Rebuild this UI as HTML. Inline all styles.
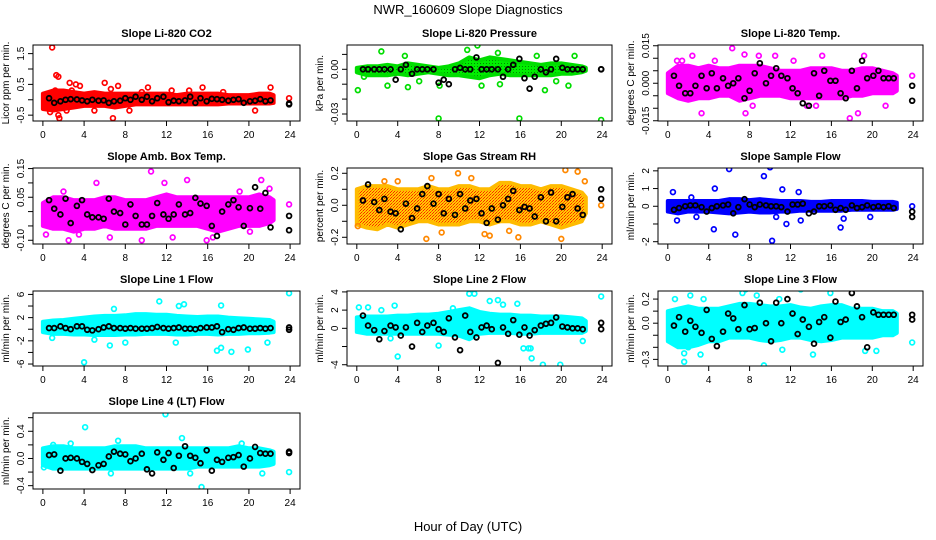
<!DOCTYPE html>
<html><head><meta charset="utf-8"><style>
html,body{margin:0;padding:0;background:#fff}
svg{display:block;font-family:"Liberation Sans",sans-serif}
</style></head><body>
<svg id="chart" width="936" height="540" viewBox="0 0 936 540">
<defs>
<pattern id="pGreen" width="3" height="3" patternUnits="userSpaceOnUse"><rect width="3" height="3" fill="#00ee00"/><rect width="1" height="1" fill="#008800"/></pattern>
<pattern id="pRH" width="3" height="3" patternUnits="userSpaceOnUse"><rect width="3" height="3" fill="#ffcc00"/><rect width="1" height="1" fill="#ff2200"/><rect x="2" y="1" width="1" height="1" fill="#ff6600"/><rect x="1" y="2" width="1" height="1" fill="#ff2200"/></pattern>
</defs>
<text x="468" y="14" text-anchor="middle" font-size="13">NWR_160609  Slope Diagnostics</text>
<text x="468" y="531" text-anchor="middle" font-size="13">Hour of Day (UTC)</text>
</svg>
<script>
const bandHours=[0,1,2,3,4,5,6,7,8,9,10,11,12,13,14,15,16,17,18,19,20,21,22,22.4];
const blackHours=[0.6,1.1,1.7,2.2,2.7,3.3,3.8,4.3,4.8,5.4,5.9,6.4,6.9,7.5,8.0,8.5,9.0,9.6,10.1,10.6,11.1,11.7,12.2,12.7,13.2,13.8,14.3,14.8,15.3,15.9,16.4,16.9,17.4,18.0,18.5,19.0,19.5,20.1,20.6,21.1,21.6,22.1];
const xTicks=[0,4,8,12,16,20,24];

const p1Lo=[-0.3,-0.35,-0.3,-0.25,-0.2,-0.2,-0.2,-0.25,-0.2,-0.15,-0.15,-0.15,-0.15,-0.15,-0.15,-0.15,-0.15,-0.15,-0.12,-0.12,-0.12,-0.12,-0.12,-0.1];
const p1Hi=[0.2,0.3,0.3,0.25,0.2,0.25,0.2,0.2,0.2,0.2,0.2,0.2,0.2,0.15,0.2,0.2,0.2,0.2,0.15,0.15,0.15,0.2,0.2,0.15];
const p1OutX=[0.9,1.3,1.5,2.6,3.2,3.6,6.0,7.3,6.8,1.6,1.5,8.4,5.0,10.2,15.5,20.6,22.1,23.9,14.2,2.3,0.7,1.2,2.8,6.6,9.6,12.5,17.5];
const p1OutY=[1.7,0.8,0.75,0.55,0.5,0.45,0.55,0.45,-0.6,-0.6,-0.5,-0.35,-0.35,0.4,0.4,-0.35,0.4,0.05,0.3,-0.35,-0.4,0.3,0.3,0.35,0.25,0.3,0.25];
const p1Blk=[0.05,-0.1,-0.05,0,0.02,0.01,-0.02,-0.05,0,-0.03,-0.02,-0.1,-0.05,-0.03,0.05,0,0.1,0,0.1,-0.05,0.05,0.1,-0.08,-0.03,-0.05,-0.02,0.1,-0.1,0.05,-0.05,0.03,0.02,0,-0.03,0,0.02,-0.1,-0.05,-0.03,0.02,-0.05,-0.02];
const p1BlkEnd=[-0.15,-0.12];

const p2Lo=[-0.002,-0.004,-0.004,-0.004,-0.003,-0.004,-0.003,-0.002,-0.003,-0.004,-0.004,-0.005,-0.006,-0.004,-0.003,-0.004,-0.004,-0.004,-0.004,-0.004,-0.003,-0.003,-0.002,-0.001];
const p2Hi=[0.001,0.002,0.002,0.003,0.002,0.004,0.003,0.002,0.001,0.002,0.004,0.008,0.006,0.008,0.007,0.006,0.005,0.004,0.003,0.004,0.004,0.003,0.002,0.001];
const p2OutX=[0.1,2.4,4.7,11.8,10.8,8.0,15.9,23.9,5.0,8.1,12.2,14.0,17.6,18.4,21.3,20.7,3.0,0.7,19.5,13.8,6.1];
const p2OutY=[-0.014,0.012,0.009,0.016,0.013,-0.033,-0.033,-0.034,-0.012,-0.011,-0.011,-0.01,0.009,-0.014,0.009,-0.011,-0.011,-0.005,-0.008,0.011,-0.008];
const p2Blk=[0,0,0,0,0,0,-0.007,0,0.003,-0.003,0,0,0,0,-0.009,-0.007,-0.01,0,0.001,0,0,0.008,0,0,0,0,-0.005,0,0.003,0.007,-0.006,-0.013,-0.005,0,-0.002,0,0.007,0.001,0,0,0,0];
const p2BlkEnd=[0,0];

const p3Lo=[-0.004,-0.006,-0.007,-0.006,-0.006,-0.005,-0.005,-0.007,-0.006,-0.005,-0.005,-0.005,-0.006,-0.006,-0.006,-0.006,-0.006,-0.006,-0.005,-0.005,-0.004,-0.004,-0.004,-0.003];
const p3Hi=[0.004,0.007,0.007,0.006,0.007,0.006,0.006,0.007,0.007,0.007,0.006,0.005,0.005,0.005,0.006,0.006,0.006,0.005,0.005,0.006,0.006,0.005,0.004,0.003];
const p3OutX=[0.9,1.4,3.3,6.3,7.5,8.9,7.6,10.5,13.6,14.5,17.8,18.6,21.3,19.2,23.9,15.1,2.4,4.6,12.3,8.3];
const p3OutY=[0.009,0.009,-0.012,0.014,0.0115,0.011,-0.012,0.011,-0.009,-0.009,-0.014,-0.012,-0.009,0.011,0.003,0.011,0.011,0.009,0.009,-0.009];
const p3Blk=[0.003,-0.001,-0.004,-0.004,-0.001,0.003,-0.002,0.004,-0.002,0.002,-0.001,0,0.002,-0.006,-0.003,0.004,0.008,0,0.003,0.006,0.003,0.002,-0.002,-0.004,-0.008,-0.009,0.004,-0.005,0.005,0.001,0.001,-0.004,-0.006,0.005,-0.002,0.009,0.002,0.003,0.005,0.002,0.002,0.002];
const p3BlkEnd=[-0.001,-0.007];

const p4Lo=[-0.05,-0.06,-0.06,-0.07,-0.06,-0.06,-0.05,-0.06,-0.06,-0.06,-0.06,-0.05,-0.05,-0.05,-0.05,-0.05,-0.06,-0.07,-0.06,-0.05,-0.05,-0.05,-0.04,-0.03];
const p4Hi=[0.03,0.05,0.05,0.04,0.04,0.04,0.05,0.05,0.04,0.04,0.04,0.05,0.06,0.05,0.05,0.05,0.05,0.05,0.05,0.05,0.05,0.06,0.05,0.04];
const p4OutX=[0.3,2.0,5.2,10.5,11.8,14.0,15.9,19.1,21.2,22.0,23.9,2.5,6.5,9.6,16.5,12.6,3.5,20.1];
const p4OutY=[-0.08,0.07,0.1,0.14,0.1,0.11,-0.1,0.07,0.11,0.08,0.025,-0.1,-0.09,-0.1,-0.09,-0.09,-0.08,-0.07];
const p4Blk=[0.04,0.01,-0.01,0.045,-0.04,0.02,0.04,-0.01,-0.02,-0.02,-0.025,0.045,0.0,-0.005,-0.045,0.025,-0.015,-0.045,-0.045,-0.015,0.03,-0.01,-0.025,-0.01,0.025,-0.01,-0.005,0.048,0.028,0.02,-0.05,-0.085,0.0,0.025,0.04,0.015,-0.05,0.012,0.085,0.01,0.065,-0.055];
const p4BlkEnd=[-0.015,-0.065];

const p5Lo=[-0.12,-0.14,-0.15,-0.12,-0.14,-0.12,-0.1,-0.1,-0.12,-0.12,-0.12,-0.1,-0.1,-0.12,-0.1,-0.1,-0.12,-0.12,-0.1,-0.12,-0.14,-0.12,-0.1,-0.05];
const p5Hi=[0.1,0.12,0.12,0.12,0.1,0.1,0.1,0.12,0.1,0.1,0.12,0.12,0.1,0.1,0.14,0.14,0.12,0.12,0.1,0.12,0.12,0.1,0.08,0.05];
const p5OutX=[0.1,2.7,4.0,7.3,6.8,9.9,11.2,13.0,15.8,20.4,21.6,22.3,23.9,12.5,20.0,8.3,14.9];
const p5OutY=[-0.13,0.15,0.15,0.17,-0.21,0.2,0.17,-0.19,-0.2,0.22,0.21,0.15,0.0,-0.18,-0.21,-0.17,-0.16];
const p5Blk=[0.03,0.13,0.02,-0.03,0.04,-0.04,-0.05,-0.15,0.01,-0.08,-0.02,0.07,0.12,0.01,0.07,-0.05,0.04,-0.06,0.07,-0.02,0.03,0.04,-0.05,-0.11,-0.02,-0.09,0,0.04,0.09,-0.03,-0.01,-0.02,-0.07,0.05,-0.1,0.08,-0.1,-0.01,0.05,0.07,-0.02,-0.06];
const p5BlkEnd=[0.1,0.04];

const p6Lo=[-0.3,-0.4,-0.3,-0.3,-0.3,-0.35,-0.4,-0.35,-0.3,-0.35,-0.35,-0.3,-0.3,-0.25,-0.25,-0.25,-0.25,-0.25,-0.2,-0.2,-0.2,-0.2,-0.2,-0.15];
const p6Hi=[0.3,0.3,0.3,0.3,0.3,0.3,0.4,0.4,0.35,0.4,0.35,0.3,0.3,0.3,0.25,0.25,0.3,0.3,0.3,0.3,0.25,0.25,0.25,0.2];
const p6OutX=[0.5,0.9,2.3,4.5,4.6,6.0,6.6,9.4,10.0,10.2,11.2,11.6,12.8,13.0,16.9,17.2,19.8,23.9,2.8,10.6];
const p6OutY=[0.8,-0.8,0.5,-1.3,1.0,2.1,-1.6,1.7,2.2,-1.95,0.95,-1.0,0.8,-0.8,-1.2,-0.7,-0.6,0.0,-0.6,-0.6];
const p6Blk=[-0.2,-0.1,0,0.05,0.05,-0.05,-0.3,-0.1,0,0.05,0.1,-0.4,-0.05,0.4,0.1,-0.05,0.1,0.05,0,0,-0.05,-0.3,0.1,0.1,0.15,-0.4,-0.3,0,0,0.05,-0.2,-0.1,-0.2,0.05,-0.1,-0.05,0.05,-0.05,0,-0.05,0,-0.1];
const p6BlkEnd=[-0.3,-0.6];

const p7Lo=[-0.5,-0.8,-0.8,-0.9,-0.9,-1.0,-1.0,-1.0,-0.9,-0.9,-0.8,-0.8,-0.8,-0.9,-0.9,-0.8,-0.8,-0.9,-0.8,-0.8,-0.7,-0.7,-0.6,-0.5];
const p7Hi=[1.3,1.5,1.6,1.8,2.0,2.2,2.3,2.3,2.4,2.6,2.6,2.5,2.5,2.3,2.2,2.1,2.2,2.2,2.0,1.9,1.8,1.7,1.6,1.3];
const p7OutX=[4.0,11.3,13.7,13.2,17.3,16.9,17.3,18.3,19.9,21.8,23.9,12.9,8.0,6.5,0.9,5.0,6.9];
const p7OutY=[-5.7,4.8,4.3,4.0,4.1,-3.7,-3.2,-3.9,-3.5,-2.3,6.2,-2.3,-2.3,-2.8,-1.5,-1.8,3.5];
const p7Blk=[0.2,0.2,0.5,0.2,0,0.5,0.5,-0.1,-0.2,0,0.3,0.5,0.2,0.2,0.1,0.2,0.1,0.1,0.1,0.2,0.4,0.2,0.1,0.2,0.3,0.1,0.1,0,0.2,0.3,0.3,0.5,-0.5,0,-0.1,0.2,0.3,0.1,0.1,0.2,0.1,0.2];
const p7BlkEnd=[0.3,-0.1];

const p8Lo=[-0.4,-0.6,-0.6,-0.6,-0.6,-0.6,-0.6,-0.6,-0.6,-0.7,-0.8,-1.2,-0.6,-0.5,-0.5,-0.5,-0.6,-0.6,-0.5,-0.5,-0.5,-0.5,-0.5,-0.3];
const p8Hi=[1.2,1.3,1.3,1.3,1.4,1.4,1.5,1.5,1.6,1.8,2.0,2.2,1.8,1.6,1.5,1.5,1.4,1.4,1.3,1.3,1.3,1.2,1.1,0.8];
const p8OutX=[0.2,1.1,2.4,3.7,4.0,8.0,9.4,11.0,11.5,13.0,13.8,15.7,17.0,16.3,16.8,17.1,18.2,19.9,22.1,23.9,3.3,14.3];
const p8OutY=[2.3,2.3,2.0,2.5,-3.1,-1.9,2.2,3.8,3.8,3.0,3.1,2.7,-2.2,-2.2,-2.2,-3.3,-4.0,-4.0,-1.4,3.5,-1.1,2.6];
const p8Blk=[1.4,0.3,-0.2,-1.2,-0.3,0.3,0.1,-0.8,0.1,-2.0,0.6,-0.4,0.3,0.6,-0.1,-0.4,1.1,-1.0,-2.4,1.4,-0.4,-1.0,0.1,0.3,-0.1,-3.8,0.1,-0.6,0.9,-0.7,0.1,-0.8,-0.2,0.3,0.5,0.6,1.2,0.2,0.1,0,0,-0.1];
const p8BlkEnd=[0.6,-0.1];

const p9Lo=[-0.15,-0.2,-0.2,-0.18,-0.15,-0.15,-0.12,-0.12,-0.12,-0.14,-0.15,-0.14,-0.12,-0.12,-0.14,-0.15,-0.14,-0.12,-0.12,-0.12,-0.12,-0.1,-0.1,-0.08];
const p9Hi=[0.1,0.12,0.14,0.12,0.12,0.12,0.14,0.16,0.16,0.15,0.14,0.14,0.15,0.13,0.12,0.14,0.15,0.15,0.12,0.12,0.12,0.1,0.1,0.08];
const p9OutX=[0.7,1.6,1.6,2.2,3.2,3.5,7.3,7.6,8.7,9.4,11.2,13.0,14.2,15.9,19.3,20.4,23.9,2.0,10.9];
const p9OutY=[0.2,-0.25,-0.32,0.23,-0.26,0.2,0.25,0.28,0.23,-0.35,-0.22,0.28,-0.26,0.25,-0.23,-0.23,-0.16,-0.2,0.2];
const p9Blk=[-0.02,0.05,-0.07,0.02,-0.03,-0.08,0.11,-0.13,-0.19,-0.07,0.08,0.04,-0.05,0.15,-0.05,-0.04,0.17,0,-0.15,0.17,0,0.2,0.08,-0.09,0.03,-0.03,-0.17,0.01,0.05,-0.12,0.18,0.01,0.03,0.25,0.14,0.05,-0.2,0.09,0.07,0.07,0.07,0.07];
const p9BlkEnd=[0.07,0.03];

const p10Lo=[-0.1,-0.15,-0.15,-0.15,-0.15,-0.15,-0.15,-0.15,-0.15,-0.15,-0.15,-0.15,-0.15,-0.15,-0.15,-0.12,-0.12,-0.12,-0.12,-0.12,-0.12,-0.12,-0.1,-0.08];
const p10Hi=[0.15,0.18,0.18,0.15,0.15,0.15,0.15,0.18,0.18,0.18,0.15,0.15,0.15,0.15,0.15,0.15,0.15,0.15,0.15,0.18,0.15,0.15,0.12,0.1];
const p10OutX=[0.1,2.7,4.1,6.6,7.3,11.9,13.5,14.3,15.4,19.3,21.3,23.9,1.0];
const p10OutY=[-0.13,0.22,0.46,-0.22,0.26,0.65,0.3,-0.22,-0.42,0.22,-0.22,-0.2,0.2];
const p10Blk=[0.05,0.06,-0.18,0,0.01,0,-0.05,-0.08,-0.17,-0.1,-0.08,0.03,0.1,0.07,0.06,-0.04,0,0.07,-0.16,-0.22,0.09,-0.02,0.08,-0.14,0.04,0.18,0.04,0.01,-0.07,0.12,-0.18,-0.02,-0.05,0.01,0.02,0.05,-0.12,0,0.17,0.08,0.07,0.07];
const p10BlkEnd=[0.1,0.08];

const NS='http://www.w3.org/2000/svg';
const svg=document.getElementById('chart');
function mk(tag,attrs,parent){const e=document.createElementNS(NS,tag);for(const k in attrs)e.setAttribute(k,attrs[k]);(parent||svg).appendChild(e);return e;}

const cols=[[33,300],[347,612],[658,923]];
const rows=[[45,121],[168,244],[291,366],[413,489]];
const panels=[
 {t:'Slope Li-820 CO2',yl:'Licor ppm per min.',c:0,r:0,dom:[-0.69,1.78],tk:[-0.5,0,0.5,1,1.5],lb:['-0.5','','0.5','','1.5'],col:'#ff0000',fill:'#ff0000',lo:p1Lo,hi:p1Hi,ox:p1OutX,oy:p1OutY,b:p1Blk,be:p1BlkEnd},
 {t:'Slope Li-820 Pressure',yl:'kPa per min.',c:1,r:0,dom:[-0.0347,0.0163],tk:[-0.03,-0.02,-0.01,0,0.01],lb:['-0.03','','','0.00',''],col:'#00dd00',fill:'url(#pGreen)',lo:p2Lo,hi:p2Hi,ox:p2OutX,oy:p2OutY,b:p2Blk,be:p2BlkEnd},
 {t:'Slope Li-820 Temp.',yl:'degrees C per min.',c:2,r:0,dom:[-0.0151,0.0153],tk:[-0.015,-0.01,-0.005,0,0.005,0.01,0.015],lb:['-0.015','','','0.000','','','0.015'],col:'#ff00ff',fill:'#ff00ff',lo:p3Lo,hi:p3Hi,ox:p3OutX,oy:p3OutY,b:p3Blk,be:p3BlkEnd},
 {t:'Slope Amb. Box Temp.',yl:'degrees C per min.',c:0,r:1,dom:[-0.113,0.152],tk:[-0.1,-0.05,0,0.05,0.1,0.15],lb:['-0.10','','','0.05','','0.15'],col:'#ff00ff',fill:'#ff00ff',lo:p4Lo,hi:p4Hi,ox:p4OutX,oy:p4OutY,b:p4Blk,be:p4BlkEnd},
 {t:'Slope Gas Stream RH',yl:'percent per min.',c:1,r:1,dom:[-0.242,0.233],tk:[-0.2,-0.1,0,0.1,0.2],lb:['-0.2','','0.0','','0.2'],col:'#ff8800',fill:'url(#pRH)',lo:p5Lo,hi:p5Hi,ox:p5OutX,oy:p5OutY,b:p5Blk,be:p5BlkEnd},
 {t:'Slope Sample Flow',yl:'ml/min per min.',c:2,r:1,dom:[-2.13,2.16],tk:[-2,-1,0,1,2],lb:['-2','','0','1','2'],col:'#0000ff',fill:'#0000ff',lo:p6Lo,hi:p6Hi,ox:p6OutX,oy:p6OutY,b:p6Blk,be:p6BlkEnd},
 {t:'Slope Line 1 Flow',yl:'ml/min per min.',c:0,r:2,dom:[-6.34,6.59],tk:[-6,-4,-2,0,2,4,6],lb:['-6','','-2','','2','','6'],col:'#00ffff',fill:'#00ffff',lo:p7Lo,hi:p7Hi,ox:p7OutX,oy:p7OutY,b:p7Blk,be:p7BlkEnd},
 {t:'Slope Line 2 Flow',yl:'ml/min per min.',c:1,r:2,dom:[-4.14,4.10],tk:[-4,-2,0,2,4],lb:['-4','','0','2','4'],col:'#00ffff',fill:'#00ffff',lo:p8Lo,hi:p8Hi,ox:p8OutX,oy:p8OutY,b:p8Blk,be:p8BlkEnd},
 {t:'Slope Line 3 Flow',yl:'ml/min per min.',c:2,r:2,dom:[-0.355,0.267],tk:[-0.3,-0.2,-0.1,0,0.1,0.2],lb:['-0.3','','','0.0','','0.2'],col:'#00ffff',fill:'#00ffff',lo:p9Lo,hi:p9Hi,ox:p9OutX,oy:p9OutY,b:p9Blk,be:p9BlkEnd},
 {t:'Slope Line 4 (LT) Flow',yl:'ml/min per min.',c:0,r:3,dom:[-0.449,0.669],tk:[-0.4,-0.2,0,0.2,0.4,0.6],lb:['-0.4','','0.0','','0.4',''],col:'#00ffff',fill:'#00ffff',lo:p10Lo,hi:p10Hi,ox:p10OutX,oy:p10OutY,b:p10Blk,be:p10BlkEnd}
];

panels.forEach((p,i)=>{
 const [x0,x1]=cols[p.c],[y0,y1]=rows[p.r];
 const sx=h=>x0+(h+0.96)/25.92*(x1-x0);
 const sy=v=>y1-(v-p.dom[0])/(p.dom[1]-p.dom[0])*(y1-y0);
 const g=mk('g',{});
 
 
 const cp=mk('clipPath',{id:'cp'+i},g);mk('rect',{x:x0,y:y0,width:x1-x0,height:y1-y0},cp);
 const pg=mk('g',{'clip-path':'url(#cp'+i+')'},g);
 let pts=[];
 bandHours.forEach((h,k)=>pts.push(sx(h)+','+sy(p.hi[k])));
 for(let k=bandHours.length-1;k>=0;k--)pts.push(sx(bandHours[k])+','+sy(p.lo[k]));
 const band=mk('polygon',{points:pts.join(' '),fill:p.fill,stroke:p.fill==='url(#pRH)'?'#ffbb00':p.col,'stroke-width':4,'stroke-linejoin':'round'},pg);
 
 
 p.ox.forEach((h,k)=>{
  const c=mk('circle',{cx:sx(h),cy:sy(p.oy[k]),r:2.4,fill:'none',stroke:p.col,'stroke-width':1.7},pg);
  
  
 });
 blackHours.forEach((h,k)=>{
  const c=mk('circle',{cx:sx(h),cy:sy(p.b[k]),r:2.4,fill:'none',stroke:'#000','stroke-width':1.8},pg);
  
  
 });
 p.be.forEach(v=>{
  const c=mk('circle',{cx:sx(23.9),cy:sy(v),r:2.4,fill:'none',stroke:'#000','stroke-width':1.8},pg);
  
  
 });
 const box=mk('rect',{x:x0,y:y0,width:x1-x0,height:y1-y0,fill:'none',stroke:'#000','stroke-width':1},g);
 
 
 const tt=mk('text',{x:(x0+x1)/2,y:y0-8,'text-anchor':'middle','font-size':11,'font-weight':'bold'},g);
 tt.textContent=p.t;
 
 
 xTicks.forEach(h=>{
  mk('line',{x1:sx(h),x2:sx(h),y1:y1,y2:y1+5,stroke:'#000'},g);
  const t=mk('text',{x:sx(h),y:y1+17,'text-anchor':'middle','font-size':10},g);
  t.textContent=h;
  
  
 });
 p.tk.forEach((v,k)=>{
  mk('line',{x1:x0-5,x2:x0,y1:sy(v),y2:sy(v),stroke:'#000'},g);
  if(p.lb[k]){
   const t=mk('text',{x:x0-9,y:sy(v),'text-anchor':'middle','font-size':10,transform:'rotate(-90 '+(x0-9)+' '+sy(v)+')'},g);
   t.textContent=p.lb[k];
   
   
  }
 });
 const cy=(y0+y1)/2;
 const yt=mk('text',{x:x0-24,y:cy,'text-anchor':'middle','font-size':10,transform:'rotate(-90 '+(x0-24)+' '+cy+')'},g);
 yt.textContent=p.yl;
 
 
});
</script>
</body></html>
